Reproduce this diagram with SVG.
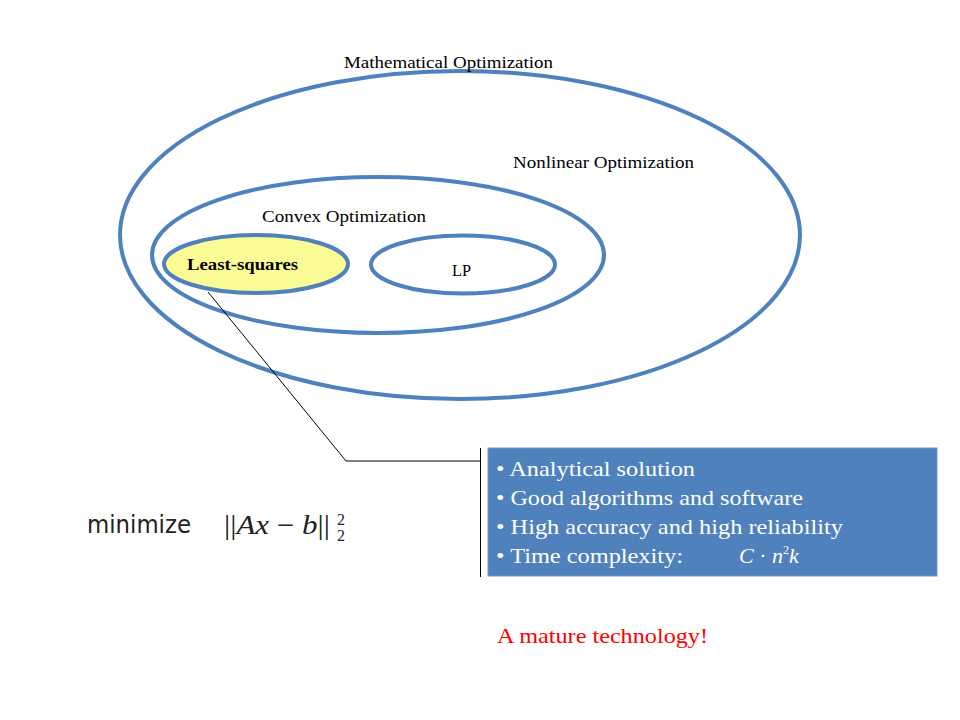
<svg xmlns="http://www.w3.org/2000/svg" width="960" height="720" viewBox="0 0 960 720">
<style>
.ell{fill:none;stroke:#4f81bd;stroke-width:4}
.lbl{font-family:"Liberation Serif",serif;font-size:17px;fill:#000}
.box{font-family:"Liberation Serif",serif;font-size:22px;fill:#fff}
.conn{fill:none;stroke:#000;stroke-width:1}
</style>
<rect width="960" height="720" fill="#fff"/>
<g id="math-opt">
<ellipse class="ell" cx="460" cy="235" rx="340" ry="164"/>
<text class="lbl" x="344" y="68" textLength="209" lengthAdjust="spacingAndGlyphs">Mathematical Optimization</text>
</g>
<g id="nonlinear-opt">
<text class="lbl" x="513" y="168" textLength="181" lengthAdjust="spacingAndGlyphs">Nonlinear Optimization</text>
</g>
<g id="convex-opt">
<ellipse class="ell" cx="378" cy="255" rx="226" ry="78"/>
<text class="lbl" x="262" y="222" textLength="164" lengthAdjust="spacingAndGlyphs">Convex Optimization</text>
</g>
<g id="least-squares">
<ellipse cx="256" cy="264" rx="92" ry="29" fill="#fbfb96" stroke="#4f81bd" stroke-width="4"/>
<text class="lbl" x="187" y="270" font-weight="bold" font-size="16" textLength="111" lengthAdjust="spacingAndGlyphs">Least-squares</text>
</g>
<g id="lp">
<ellipse class="ell" cx="463" cy="264.5" rx="92" ry="29"/>
<text class="lbl" x="452" y="276" textLength="19" lengthAdjust="spacingAndGlyphs">LP</text>
</g>
<g id="connectors">
<polyline class="conn" points="208,292 346,461 481,461"/>
<line class="conn" x1="480.5" y1="448" x2="480.5" y2="577"/>
</g>
<g id="properties">
<rect x="488" y="448" width="449" height="128" fill="#4f81bd" stroke="#6f9bd0" stroke-width="1"/>
<text class="box" x="496" y="476" textLength="199" lengthAdjust="spacingAndGlyphs">• Analytical solution</text>
<text class="box" x="496" y="505" textLength="307" lengthAdjust="spacingAndGlyphs">• Good algorithms and software</text>
<text class="box" x="496" y="534" textLength="347" lengthAdjust="spacingAndGlyphs">• High accuracy and high reliability</text>
<text class="box" x="496" y="563" textLength="187" lengthAdjust="spacingAndGlyphs">• Time complexity:</text>
<text class="box" x="739" y="563" font-style="italic">C<tspan font-style="normal"> · </tspan>n<tspan dy="-9" font-size="12" font-style="normal">2</tspan><tspan dy="9">k</tspan></text>
</g>
<g id="formula">
<text x="87" y="533" font-family="'DejaVu Sans',sans-serif" font-size="24" fill="#222" textLength="104" lengthAdjust="spacingAndGlyphs">minimize</text>
<text x="224" y="534" font-family="'Liberation Serif',serif" font-size="27" fill="#222" textLength="106" lengthAdjust="spacingAndGlyphs">||<tspan font-style="italic">Ax</tspan> − <tspan font-style="italic">b</tspan>||</text>
<text x="337" y="525" font-family="'Liberation Serif',serif" font-size="16" fill="#222">2</text>
<text x="337" y="541" font-family="'Liberation Serif',serif" font-size="16" fill="#222">2</text>
</g>
<g id="conclusion">
<text x="497" y="643" font-family="'Liberation Serif',serif" font-size="22" fill="#f00" textLength="211" lengthAdjust="spacingAndGlyphs">A mature technology!</text>
</g>
</svg>
